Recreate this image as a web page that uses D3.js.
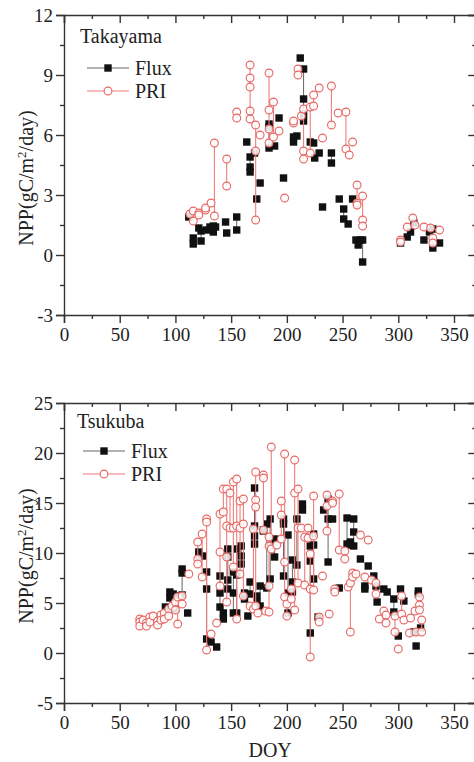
<!DOCTYPE html>
<html>
<head>
<meta charset="utf-8">
<script src="https://cdn.jsdelivr.net/npm/d3@7/dist/d3.min.js"></script>
<style>
  body { margin: 0; background: #fff; }
  text { font-family: "Liberation Serif", "Times New Roman", serif; fill: #222; }
  .domain, .tick line { stroke: #333; stroke-width: 1.4; }
</style>
</head>
<body>
<svg id="chart" width="474" height="762"></svg>
<script>
"use strict";

// [DOY, NPP] pairs; points sharing a DOY are joined by a line
var takayamaFlux = [[112,1.9],[116,0.85],[116,0.55],[121,1.35],[123,0.7],[123,1.2],[128,1.25],[131,1.4],[134,1.45],[134,1.15],
  [136,1.4],[145,1.65],[146,1.1],[155,1.9],[155,1.25],[164,5.65],[167,4.9],[167,4.4],[167,4.15],[171,5.1],[173,2.8],[176,3.6],
  [184,6.55],[184,6.4],[184,5.35],[189,5.45],[193,6.85],[197,3.85],[206,5.9],[206,5.65],[209,5.95],[212,9.85],[215,9.3],
  [215,7.8],[215,7.05],[215,6.7],[221,5.65],[224,5.6],[225,4.85],[229,5.1],[232,2.4],[240,5.1],[240,4.6],[247,2.8],[251,2.3],
  [251,1.8],[255,1.55],[259,2.8],[262,0.75],[264,0.5],[266,0.75],[268,0.75],[268,-0.35],[302,0.6],[308,0.9],[311,1.15],
  [314,1.6],[323,0.75],[328,1.15],[331,1.3],[331,0.35],[337,0.6]];

var takayamaPri = [[113,2.05],[116,2.2],[116,1.7],[121,2.1],[121,2.0],[127,2.25],[127,2.35],[132,2.6],[135,5.6],[135,1.95],
  [146,4.8],[146,3.45],[155,7.15],[155,6.85],[167,9.5],[167,8.85],[167,8.4],[167,7.2],[167,6.8],[172,6.5],[172,5.2],[172,1.75],
  [176,6.0],[184,9.1],[184,7.25],[184,6.3],[184,5.6],[188,7.65],[188,5.9],[193,6.2],[198,2.85],[206,6.6],[206,6.7],[210,9.3],
  [210,9.0],[213,6.95],[215,7.3],[215,5.2],[215,4.8],[221,7.4],[221,5.1],[224,8.0],[224,7.45],[229,8.35],[232,5.85],[240,8.45],
  [240,6.5],[246,7.1],[253,7.15],[253,5.3],[256,5.0],[259,5.65],[263,3.5],[263,2.6],[263,2.5],[268,2.95],[268,1.75],[268,1.45],
  [302,0.75],[302,0.65],[308,1.4],[313,1.85],[315,1.5],[323,1.4],[329,1.35],[331,0.85],[331,0.6],[337,1.25]];

var tsukubaFlux = [[91,4.6],[95,6.1],[95,5.5],[98,5.9],[100,5.7],[100,4.4],[106,8.4],[106,8.0],[106,5.8],[111,4.0],[121,10.1],
  [121,9.8],[125,9.7],[128,8.1],[128,6.4],[128,1.4],[132,1.1],[137,0.6],[140,7.7],[140,6.0],[140,4.6],[143,4.0],[143,3.4],
  [147,10.4],[147,9.6],[147,7.3],[147,6.4],[152,8.1],[152,6.0],[152,4.0],[155,10.4],[155,7.8],[155,4.0],[159,10.7],[159,9.7],
  [159,8.9],[162,6.0],[162,5.4],[165,3.7],[167,7.1],[167,5.9],[171,16.5],[171,12.7],[171,11.7],[171,10.9],[173,5.7],[173,5.1],
  [176,6.7],[176,4.7],[179,12.3],[179,12.2],[182,12.9],[182,6.5],[185,13.4],[185,10.7],[185,7.4],[189,11.4],[189,9.6],
  [197,13.4],[197,12.9],[197,7.7],[201,11.8],[201,6.0],[201,4.0],[205,9.3],[205,7.1],[205,6.1],[209,13.4],[209,8.8],
  [214,14.9],[214,14.3],[221,10.7],[221,9.2],[221,2.0],[224,11.9],[224,10.8],[224,7.4],[228,3.6],[233,14.3],[237,15.4],
  [237,13.4],[237,9.1],[241,13.4],[247,6.5],[254,13.5],[254,10.9],[257,11.1],[257,10.8],[260,13.4],[260,12.1],[260,10.7],
  [266,9.4],[270,6.7],[270,6.4],[273,8.7],[278,7.7],[280,6.7],[281,5.1],[287,6.4],[290,6.1],[296,5.4],[296,4.1],[300,1.7],
  [302,6.4],[305,5.2],[314,2.1],[316,0.7],[318,6.2],[318,5.9],[320,2.5]];

var tsukubaPri = [[68,3.4],[68,3.1],[68,2.7],[71,3.3],[74,3.0],[74,2.7],[77,3.6],[77,3.1],[80,3.7],[84,3.2],[84,2.8],[87,3.8],
  [87,3.3],[90,4.0],[90,3.4],[94,4.4],[94,3.7],[97,4.7],[100,5.1],[100,4.3],[102,5.6],[102,2.9],[106,5.7],[106,4.9],[112,7.9],
  [120,11.1],[120,9.4],[120,8.9],[124,11.9],[124,7.6],[128,13.4],[128,13.1],[128,0.3],[132,1.9],[137,3.0],[140,13.9],
  [140,10.1],[140,6.7],[143,16.4],[143,14.1],[146,16.4],[146,12.7],[146,9.6],[146,5.1],[149,16.0],[149,12.5],[152,17.1],
  [152,12.5],[152,8.6],[155,17.4],[155,12.7],[155,3.4],[158,15.2],[158,12.5],[158,7.9],[161,15.4],[161,12.9],[161,5.7],
  [167,4.7],[170,12.4],[170,4.4],[172,18.1],[172,15.3],[172,14.6],[172,4.7],[174,4.0],[179,17.8],[179,17.5],[179,12.3],
  [181,4.2],[184,11.6],[184,10.7],[184,6.7],[184,4.1],[186,20.6],[186,10.4],[191,10.8],[195,15.2],[195,13.8],[195,11.4],
  [198,19.9],[198,9.1],[198,5.6],[200,4.9],[200,3.7],[204,6.4],[204,5.4],[207,19.3],[207,16.0],[207,4.3],[210,16.4],
  [210,12.5],[210,7.0],[213,12.5],[216,11.6],[216,6.8],[219,12.5],[219,11.5],[221,9.9],[221,6.4],[221,-0.4],[224,15.7],
  [224,11.7],[224,6.3],[229,3.6],[229,3.1],[232,7.7],[236,15.8],[236,14.7],[236,12.2],[238,3.9],[241,15.2],[241,15.0],
  [243,6.4],[243,6.1],[247,15.9],[247,10.3],[252,10.2],[252,9.4],[255,6.6],[257,7.0],[257,2.1],[259,8.0],[259,7.6],[262,7.9],
  [266,11.8],[270,7.6],[273,11.3],[276,7.3],[280,7.0],[280,5.9],[283,3.4],[287,4.2],[289,3.8],[289,3.0],[297,3.7],[297,2.1],
  [300,0.4],[303,5.7],[303,3.9],[305,3.3],[310,2.0],[311,3.5],[315,4.2],[316,2.1],[319,5.6],[319,4.8],[319,4.3],[321,3.3],
  [321,2.1]];

var xTicks = [0, 50, 100, 150, 200, 250, 300, 350];
var takayamaTicks = [-3, 0, 3, 6, 9, 12];
var tsukubaTicks = [-5, 0, 5, 10, 15, 20, 25];
var seriesNames = ["Flux", "PRI"];

var fluxColor = "#111", fluxLine = "#666";
var priColor = "#e66764", priLine = "#f07d7a";
var sq = 7.4, rad = 3.9;

var svg = d3.select("#chart");

var x = d3.scaleLinear().domain([0, 370]).range([64, 64 + 370 * 1.1143]);
var plain = function(d) { return String(d); };   // keep "-3", not a unicode minus

function drawPanel(p) {
  var y = d3.scaleLinear().domain(p.yDomain).range([p.bottom, p.top]);
  var g = svg.append("g");
  var step = p.yTicks[1] - p.yTicks[0];
  var yMinor = d3.range(p.yDomain[0] + step / 2, p.yDomain[1], step);
  var xMinor = d3.range(25, 370, 50);

  // axes: left/bottom ticks outward, top/right mirrored inward
  g.append("g").attr("transform", "translate(" + x.range()[0] + ",0)")
    .call(d3.axisLeft(y).tickValues(p.yTicks).tickSize(8).tickPadding(3).tickFormat(plain))
    .call(function(a) { a.selectAll("text").style("font-size", "19px"); });
  g.append("g").attr("transform", "translate(" + x.range()[0] + ",0)")
    .call(d3.axisLeft(y).tickValues(yMinor).tickSize(4).tickFormat(""))
    .call(function(a) { a.select(".domain").remove(); });
  g.append("g").attr("transform", "translate(" + x.range()[1] + ",0)")
    .call(d3.axisRight(y).tickValues(p.yTicks).tickSize(-8).tickFormat(""));
  g.append("g").attr("transform", "translate(" + x.range()[1] + ",0)")
    .call(d3.axisRight(y).tickValues(yMinor).tickSize(-4).tickFormat(""))
    .call(function(a) { a.select(".domain").remove(); });

  g.append("g").attr("transform", "translate(0," + p.bottom + ")")
    .call(d3.axisBottom(x).tickValues(xTicks).tickSize(8).tickPadding(5).tickFormat(plain))
    .call(function(a) { a.selectAll("text").style("font-size", "19px"); });
  g.append("g").attr("transform", "translate(0," + p.bottom + ")")
    .call(d3.axisBottom(x).tickValues(xMinor).tickSize(4).tickFormat(""))
    .call(function(a) { a.select(".domain").remove(); });
  g.append("g").attr("transform", "translate(0," + p.top + ")")
    .call(d3.axisTop(x).tickValues(xTicks).tickSize(-8).tickFormat(""));
  g.append("g").attr("transform", "translate(0," + p.top + ")")
    .call(d3.axisTop(x).tickValues(xMinor).tickSize(-4).tickFormat(""))
    .call(function(a) { a.select(".domain").remove(); });

  // y label
  var yl = g.append("text")
    .attr("transform", "translate(33," + p.labelY + ") rotate(-90)")
    .attr("text-anchor", "middle")
    .style("font-size", "20px");
  yl.append("tspan").text("NPP(gC/m");
  yl.append("tspan").attr("dy", -7).style("font-size", "13px").text("2");
  yl.append("tspan").attr("dy", 7).text("/day)");

  var line = d3.line().x(function(d) { return x(d[0]); }).y(function(d) { return y(d[1]); });

  // Flux: lines within a day, filled squares
  d3.groups(p.flux, function(d) { return d[0]; }).forEach(function(grp) {
    if (grp[1].length > 1) {
      g.append("path").datum(grp[1]).attr("d", line)
        .attr("fill", "none").attr("stroke", fluxLine).attr("stroke-width", 1);
    }
  });
  g.selectAll(".sq").data(p.flux).enter().append("rect")
    .attr("x", function(d) { return x(d[0]) - sq / 2; })
    .attr("y", function(d) { return y(d[1]) - sq / 2; })
    .attr("width", sq).attr("height", sq)
    .attr("fill", fluxColor);

  // PRI: lines within a day, open circles
  d3.groups(p.pri, function(d) { return d[0]; }).forEach(function(grp) {
    if (grp[1].length > 1) {
      g.append("path").datum(grp[1]).attr("d", line)
        .attr("fill", "none").attr("stroke", priLine).attr("stroke-width", 1.1);
    }
  });
  g.selectAll(".ci").data(p.pri).enter().append("circle")
    .attr("cx", function(d) { return x(d[0]); })
    .attr("cy", function(d) { return y(d[1]); })
    .attr("r", rad)
    .attr("fill", "#fff").attr("fill-opacity", 0.85)
    .attr("stroke", priColor).attr("stroke-width", 1.1);

  // site name and legend
  g.append("text").attr("x", p.nameX).attr("y", p.nameY).style("font-size", "20px").text(p.name);
  seriesNames.forEach(function(s, i) {
    var ly = p.legY + i * 23;
    g.append("line").attr("x1", p.legX).attr("x2", p.legX + 42).attr("y1", ly).attr("y2", ly)
      .attr("stroke", i === 0 ? fluxLine : priLine).attr("stroke-width", 1.1);
    if (i === 0) {
      g.append("rect").attr("x", p.legX + 21 - sq / 2).attr("y", ly - sq / 2).attr("width", sq).attr("height", sq).attr("fill", fluxColor);
    } else {
      g.append("circle").attr("cx", p.legX + 21).attr("cy", ly).attr("r", rad)
        .attr("fill", "#fff").attr("stroke", priColor).attr("stroke-width", 1.1);
    }
    g.append("text").attr("x", p.legX + 48).attr("y", ly + 7).style("font-size", "20px").text(s);
  });
}

drawPanel({
  top: 15, bottom: 315, yDomain: [-3, 12], yTicks: takayamaTicks, labelY: 178,
  flux: takayamaFlux, pri: takayamaPri,
  name: "Takayama", nameX: 80, nameY: 43, legX: 87, legY: 68
});

drawPanel({
  top: 403, bottom: 703, yDomain: [-5, 25], yTicks: tsukubaTicks, labelY: 556,
  flux: tsukubaFlux, pri: tsukubaPri,
  name: "Tsukuba", nameX: 77, nameY: 428, legX: 83, legY: 451
});

svg.append("text")
  .attr("x", (x.range()[0] + x.range()[1]) / 2).attr("y", 757)
  .attr("text-anchor", "middle").style("font-size", "20px").text("DOY");
</script>
</body>
</html>
